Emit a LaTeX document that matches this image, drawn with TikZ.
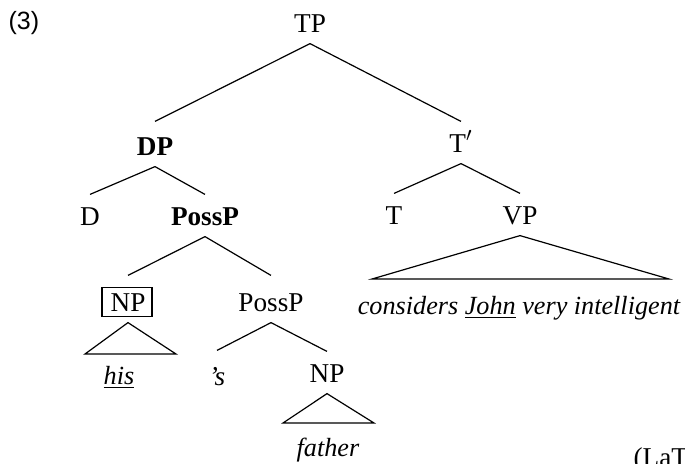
\documentclass[tikz,border=0pt]{standalone}
\usepackage{fontspec}
\setmainfont{Liberation Serif}
\setsansfont{Liberation Sans}
\begin{document}
\begin{tikzpicture}[x=0.5pt,y=-0.5pt,
  font=\fontsize{13.6}{16}\selectfont,
  line width=0.6pt,
  lab/.style={anchor=base, inner xsep=1pt, inner ysep=5.5pt, text height=9.5pt, text depth=0pt},
  leaf/.style={anchor=base, inner sep=1pt, font=\fontsize{13.1}{16}\selectfont\itshape},
  frame/.style={draw, minimum width=25pt, minimum height=14.5pt, inner sep=0pt, anchor=south}]
\useasboundingbox (0,0) rectangle (685,463);
% example number
\node[anchor=base west, inner sep=0pt, font=\fontsize{12.5}{15}\sffamily] (num) at (8,29) {(3)};
% nodes
\node[lab] (tp) at (310,32) {TP};
\node[lab, text height=11pt] (dp) at (155,155) {\textbf{DP}};
\node[lab] (tbar) at (461,152) {T$'$};
\node[lab] (d) at (90,225) {D};
\node[lab] (possb) at (205,225) {\textbf{PossP}};
\node[lab] (t) at (394,224) {T};
\node[lab] (vp) at (520,224) {VP};
\node[lab, text height=12pt] (npb) at (128,311) {NP};
\node[frame] (npframe) at (127,317) {};
\node[lab, text height=12pt] (poss) at (271,311) {PossP};
\node[lab, text height=11.5pt] (s) at (217,385) {\itshape ’s};
\node[lab] (np) at (327,382) {NP};
% leaves
\node[leaf] (vpt) at (519,314) {considers \underline{John} very intelligent};
\node[leaf] (his) at (119,384) {\underline{his}};
\node[leaf] (father) at (328,456) {father};
\node[anchor=base west, inner sep=0pt] (latex) at (633,466) {(LaTeX)};
% triangle corners
\coordinate (vpl) at (372,279);
\coordinate (vpr) at (669,279);
\coordinate (npbl) at (85,354);
\coordinate (npbr) at (176,354);
\coordinate (npl) at (283,423);
\coordinate (npr) at (374,423);
% branches
\draw (tp.south) -- (dp.north);
\draw (tp.south) -- (tbar.north);
\draw (dp.south) -- (d.north);
\draw (dp.south) -- (possb.north);
\draw (tbar.south) -- (t.north);
\draw (tbar.south) -- (vp.north);
\draw (possb.south) -- (npb.north);
\draw (possb.south) -- (poss.north);
\draw (poss.south) -- (s.north);
\draw (poss.south) -- (np.north);
% triangles
\draw (vp.south) -- (vpl) -- (vpr) -- cycle;
\draw (npb.south) -- (npbl) -- (npbr) -- cycle;
\draw (np.south) -- (npl) -- (npr) -- cycle;
\end{tikzpicture}
\end{document}
